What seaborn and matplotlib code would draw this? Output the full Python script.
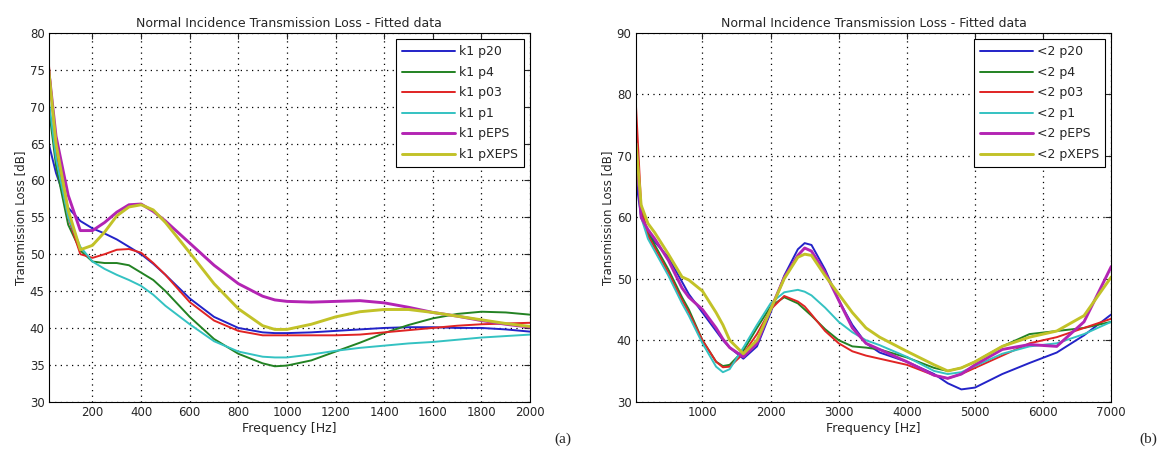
import numpy as np
import pandas as pd
import matplotlib
matplotlib.use('Agg')
import matplotlib.pyplot as plt
import seaborn as sns

sns.set_style('white')
plt.rcParams['font.family'] = ['DejaVu Sans']

# ---- panel (a): k1 ----
freq_a = [20, 50, 100, 150, 200, 250, 300, 350, 400, 450, 500, 600, 700, 800, 900, 950,
          1000, 1100, 1200, 1300, 1400, 1500, 1600, 1700, 1800, 1900, 2000]
k1_p20 = [65, 61, 56.3, 54.5, 53.5, 52.8, 52, 51, 50, 48.7, 47.2, 44, 41.5, 40, 39.4, 39.3,
          39.3, 39.4, 39.6, 39.8, 40, 40.1, 40.1, 40, 40, 39.8, 39.5]
k1_p4 = [70, 62, 54, 50.5, 49, 48.8, 48.8, 48.5, 47.5, 46.5, 45, 41.5, 38.5, 36.5, 35.2, 34.8,
         34.9, 35.6, 36.8, 38, 39.3, 40.4, 41.3, 41.9, 42.2, 42.1, 41.8]
k1_p03 = [76, 64, 55, 50, 49.5, 50, 50.6, 50.7, 50.2, 48.8, 47.2, 43.5, 41, 39.6, 39, 39,
          39, 39, 39, 39.1, 39.4, 39.7, 40, 40.3, 40.5, 40.6, 40.7]
k1_p1 = [71, 63, 55, 51, 49, 48, 47.2, 46.5, 45.7, 44.5, 43, 40.5, 38.2, 36.8, 36.1, 36,
         36, 36.4, 36.9, 37.3, 37.6, 37.9, 38.1, 38.4, 38.7, 38.9, 39.1]
k1_pEPS = [75, 66, 58, 53.2, 53.2, 54.3, 55.7, 56.7, 56.8, 55.8, 54.5, 51.5, 48.5, 46, 44.3, 43.8,
           43.6, 43.5, 43.6, 43.7, 43.4, 42.8, 42.1, 41.6, 41, 40.5, 40.1]
k1_pXEPS = [75, 65, 56, 50.6, 51.2, 53, 55.2, 56.4, 56.7, 56, 54.3, 50.2, 46, 42.6, 40.3, 39.8,
            39.8, 40.5, 41.5, 42.2, 42.5, 42.5, 42.1, 41.6, 41.1, 40.6, 40.2]
labels_a = ['k1 p20', 'k1 p4', 'k1 p03', 'k1 p1', 'k1 pEPS', 'k1 pXEPS']

# ---- panel (b): k2 ----
freq_b = [25, 100, 200, 300, 500, 700, 800, 1000, 1200, 1300, 1400, 1600, 1800, 2000, 2200, 2400,
          2500, 2600, 2800, 3000, 3200, 3400, 3600, 4000, 4400, 4600, 4800, 5000, 5400, 5800,
          6200, 6600, 7000]
k2_p20 = [66, 60, 57.5, 56, 53.5, 49.5, 47.5, 44.5, 41.5, 40, 38.8, 37, 39, 44.5, 50.5, 54.8,
          55.8, 55.5, 51.5, 46.5, 42.5, 39.5, 38, 36.5, 34.5, 33, 32, 32.3, 34.5, 36.3,
          38, 40.8, 44.2]
k2_p4 = [70, 61, 57.5, 55.5, 51.5, 47, 45, 40, 36.5, 35.8, 36, 38.3, 42, 45.5, 47, 46,
         45, 44, 41.8, 40, 39, 38.8, 38.5, 37.2, 35.5, 35, 35.5, 36.5, 39, 41,
         41.5, 42, 43]
k2_p03 = [78, 62, 57, 55, 51, 46.5, 44.5, 40, 36.5, 35.6, 35.7, 37.8, 41, 45, 47.2, 46.3,
          45.5, 44.2, 41.5, 39.5, 38.2, 37.5, 37, 36, 34.3, 33.8, 34.5, 35.5, 37.5, 39.5,
          40.5, 42, 43.5]
k2_p1 = [72, 60, 56.5, 54.5, 50.5, 46, 44, 39.5, 35.7, 34.8, 35.3, 38.8, 42.5, 46, 47.8, 48.2,
         47.9, 47.3, 45.3, 43, 41.3, 40, 39.2, 37.3, 35, 34.5, 34.8, 35.8, 37.8, 39,
         39.5, 41, 43]
k2_pEPS = [72, 60, 58, 56.5, 53, 48.5, 47, 45, 42, 40.2, 38.8, 37.3, 39.5, 45, 50.2, 53.8,
           55, 54.5, 51, 46.5, 42, 39.5, 38.5, 36.5, 34.3, 33.8, 34.5, 36, 38.5, 39.3,
           39, 43, 52]
k2_pXEPS = [72, 62, 59, 57.5, 54, 50.3, 49.8, 48, 44.5, 42.5, 40, 37.8, 40, 45, 50, 53.5,
            54, 53.8, 50.5, 47.5, 44.5, 42, 40.5, 38.2, 36, 35, 35.5, 36.5, 39, 40.5,
            41.5, 44, 50.3]
labels_b = ['<2 p20', '<2 p4', '<2 p03', '<2 p1', '<2 pEPS', '<2 pXEPS']

colors = ['#2323c8', '#238223', '#e02424', '#34c2c2', '#b324b3', '#c2c228']
widths = [1.4, 1.4, 1.4, 1.4, 2.1, 2.1]

fig = plt.figure(figsize=(11.6, 4.57), dpi=100)
ax1 = fig.add_axes([0.042, 0.121, 0.415, 0.807])
ax2 = fig.add_axes([0.548, 0.121, 0.410, 0.807])

panels = [
    (ax1, freq_a, [k1_p20, k1_p4, k1_p03, k1_p1, k1_pEPS, k1_pXEPS], labels_a,
     (20, 2000), (30, 80), range(200, 2001, 200), range(30, 81, 5)),
    (ax2, freq_b, [k2_p20, k2_p4, k2_p03, k2_p1, k2_pEPS, k2_pXEPS], labels_b,
     (20, 7000), (30, 90), range(1000, 7001, 1000), range(30, 91, 10)),
]

for ax, freq, series, labels, xl, yl, xt, yt in panels:
    for s, lab, c, w in zip(series, labels, colors, widths):
        sns.lineplot(x=freq, y=s, ax=ax, color=c, linewidth=w, label=lab)
    ax.set_xlim(*xl); ax.set_ylim(*yl)
    ax.set_xticks(list(xt)); ax.set_yticks(list(yt))
    ax.grid(True, color='black', linestyle=(0, (1, 3.5)), linewidth=0.9)
    ax.tick_params(direction='in', top=True, right=True, length=4, labelsize=8.5, pad=3)
    for sp in ax.spines.values():
        sp.set_color('black'); sp.set_linewidth(0.8)
    ax.set_title('Normal Incidence Transmission Loss - Fitted data', fontsize=9, pad=4)
    ax.set_xlabel('Frequency [Hz]', fontsize=9, labelpad=2)
    ax.set_ylabel('Transmission Loss [dB]', fontsize=8.5, labelpad=2)
    leg = ax.legend(loc='upper right', fancybox=False, edgecolor='black', framealpha=1,
                    fontsize=9, handlelength=4.2, handletextpad=0.3, labelspacing=0.6,
                    borderaxespad=0.5, borderpad=0.5)
    leg.get_frame().set_linewidth(0.8)

fig.text(0.478, 0.03, '(a)', fontsize=11, family='Liberation Serif')
fig.text(0.982, 0.03, '(b)', fontsize=11, family='Liberation Serif')

plt.savefig('out.png', dpi=100)
